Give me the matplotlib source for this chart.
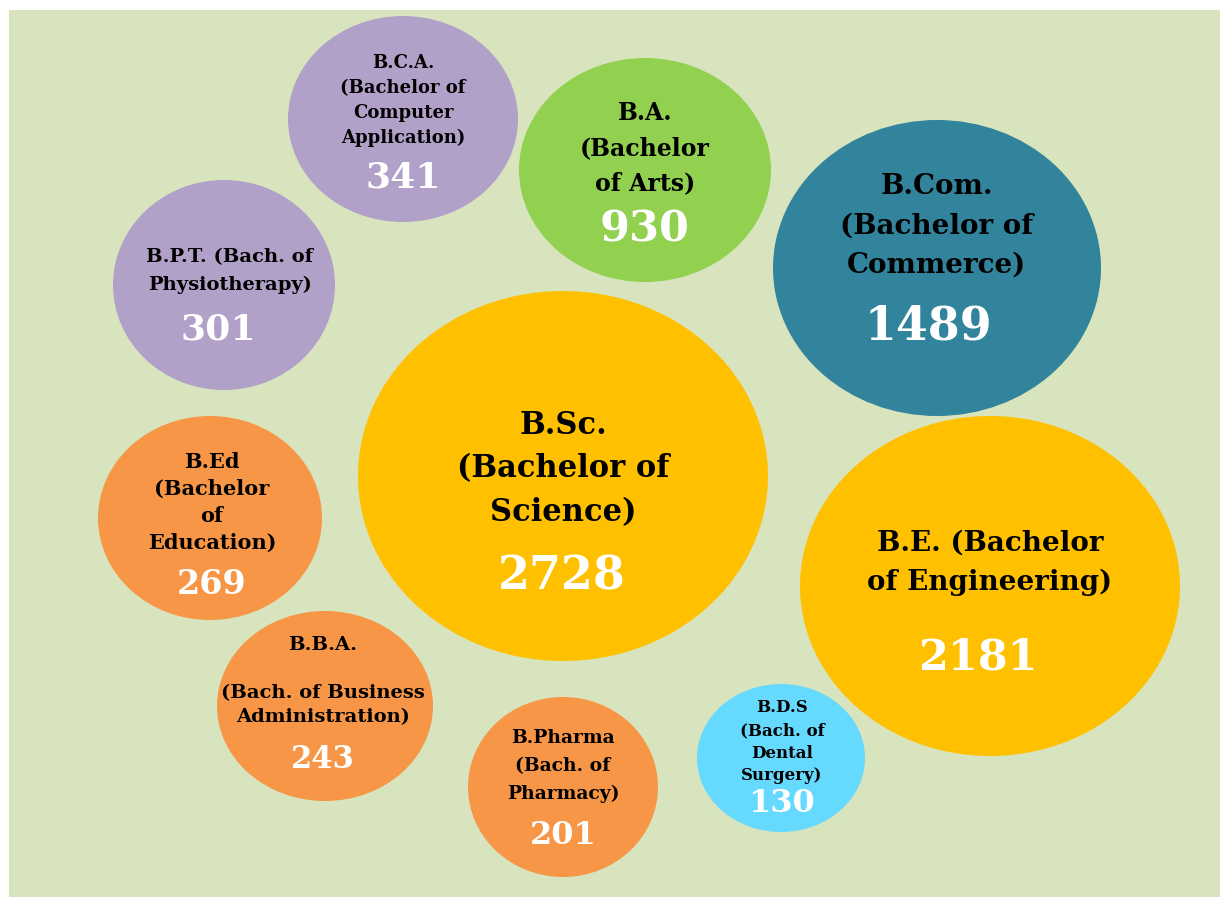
import matplotlib.pyplot as plt
from matplotlib.patches import Ellipse, Rectangle

# programme names (label lines) and enrolment counts
programs = [
    ["B.C.A.", "(Bachelor of", "Computer", "Application)"],
    ["B.A.", "(Bachelor", "of Arts)"],
    ["B.Com.", "(Bachelor of", "Commerce)"],
    ["B.P.T. (Bach. of", "Physiotherapy)"],
    ["B.Sc.", "(Bachelor of", "Science)"],
    ["B.E. (Bachelor", "of Engineering)"],
    ["B.Ed", "(Bachelor", "of", "Education)"],
    ["B.B.A.", "", "(Bach. of Business", "Administration)"],
    ["B.Pharma", "(Bach. of", "Pharmacy)"],
    ["B.D.S", "(Bach. of", "Dental", "Surgery)"],
]
students = [341, 930, 1489, 301, 2728, 2181, 269, 243, 201, 130]

# layout in pixel space: bubble centre, radii
centres = [(403, 119), (645, 170), (937, 268), (224, 285), (563, 476),
           (990, 586), (210, 518), (325, 706), (563, 787), (781, 758)]
radii = [(115, 103), (126, 112), (164, 148), (111, 105), (205, 185),
         (190, 170), (112, 102), (108, 95), (95, 90), (84, 74)]
colors = ["#b1a0c7", "#92d050", "#31849b", "#b1a0c7", "#ffc000",
          "#ffc000", "#f79646", "#f79646", "#f79646", "#66d9ff"]

# text layout: first line y, line step, label size, value x, value y, value size
text_x = [403, 645, 937, 230, 563, 990, 212, 323, 563, 782]
label_y0 = [63, 113, 187, 257, 425, 543, 462, 645, 738, 708]
label_step = [25, 35, 39, 28, 44, 39, 27, 24, 28, 22.5]
label_size = [13, 17, 20, 14, 22, 20, 15, 14, 13.5, 12]
value_pos = [(403, 178), (645, 229), (928, 327), (218, 330), (562, 577),
             (978, 658), (212, 585), (323, 760), (563, 835), (782, 803)]
value_size = [26, 31, 33, 26, 33, 31, 24, 22, 23, 23]

fig = plt.figure(figsize=(12.2, 8.97), dpi=100)
ax = fig.add_axes([0, 0, 1, 1])
ax.set_xlim(0, 1220)
ax.set_ylim(897, 0)
ax.axis("off")

ax.add_patch(Rectangle((9, 10), 1211, 887, facecolor="#d7e4bd", edgecolor="none"))

for i in range(len(students)):
    cx, cy = centres[i]
    rx, ry = radii[i]
    ax.add_patch(Ellipse((cx, cy), 2 * rx, 2 * ry, facecolor=colors[i], edgecolor="none"))
    for j, line in enumerate(programs[i]):
        ax.text(text_x[i], label_y0[i] + j * label_step[i], line, ha="center", va="center",
                fontsize=label_size[i], fontweight="bold", family="DejaVu Serif", color="black")
    vx, vy = value_pos[i]
    ax.text(vx, vy, str(students[i]), ha="center", va="center",
            fontsize=value_size[i], fontweight="bold", family="DejaVu Serif", color="white")

fig.savefig("out.png", dpi=100, facecolor="white")
